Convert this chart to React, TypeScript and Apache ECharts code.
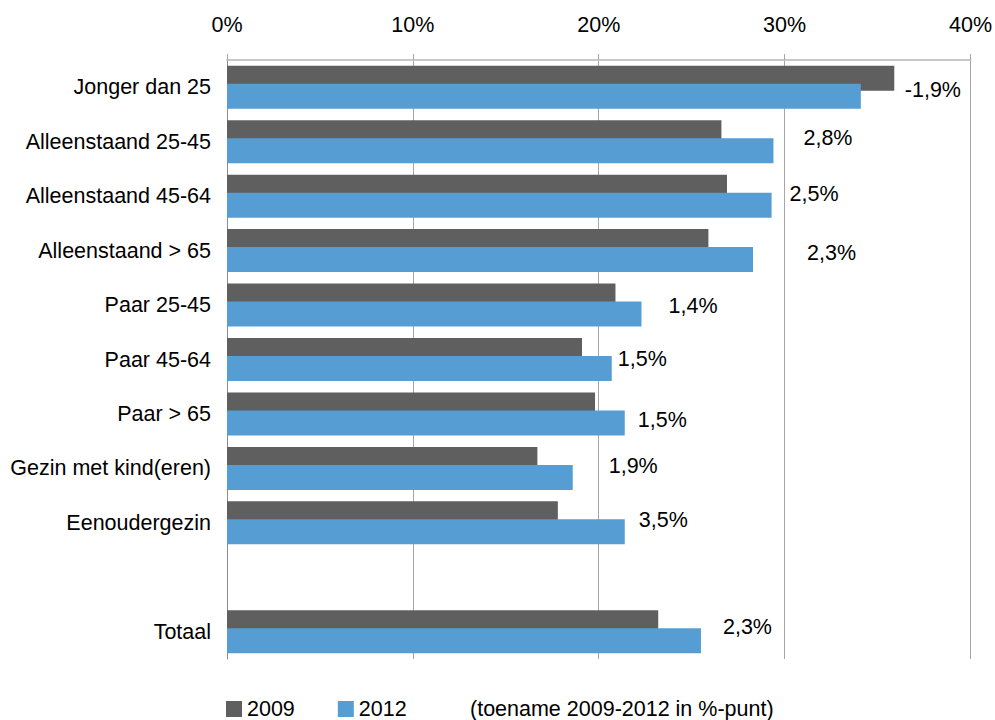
import React, { useEffect, useRef } from 'react';
import * as echarts from 'echarts';

const categories = [
  'Jonger dan 25',
  'Alleenstaand 25-45',
  'Alleenstaand 45-64',
  'Alleenstaand > 65',
  'Paar 25-45',
  'Paar 45-64',
  'Paar > 65',
  'Gezin met kind(eren)',
  'Eenoudergezin',
  '',
  'Totaal',
];

const values2009 = [35.9, 26.6, 26.9, 25.9, 20.9, 19.1, 19.8, 16.7, 17.8, null, 23.2];
const values2012 = [34.1, 29.4, 29.3, 28.3, 22.3, 20.7, 21.4, 18.6, 21.4, null, 25.5];
const changeLabels = ['-1,9%', '2,8%', '2,5%', '2,3%', '1,4%', '1,5%', '1,5%', '1,9%', '3,5%', '', '2,3%'];

const seriesNames = ['2009', '2012'];
const valueTicks = [0, 10, 20, 30, 40];
const noteText = '(toename 2009-2012 in %-punt)';

// label nudges (layout only), matching the hand-placed labels of the original
const labelNudges: [number, number][] = [
  [39, -6], [25, -13], [13, -11], [49, -7], [22, -8], [1, -10],
  [8, -3], [31, -11], [9, -12], [0, 0], [17, -14],
];

const FONT = "'Liberation Sans', Arial, Helvetica, sans-serif";
const FS = 21.5;
const GRAY = '#5f5f5f';
const BLUE = '#569dd3';

export default function App() {
  const ref = useRef<HTMLDivElement>(null);

  useEffect(() => {
    const chart = echarts.init(ref.current!, null, { renderer: 'svg' });
    chart.setOption({
      animation: false,
      backgroundColor: '#ffffff',
      textStyle: { fontFamily: FONT },
      grid: { left: 227, right: 24, top: 60, bottom: 61, containLabel: false },
      xAxis: {
        type: 'value',
        position: 'top',
        min: valueTicks[0],
        max: valueTicks[valueTicks.length - 1],
        interval: valueTicks[1] - valueTicks[0],
        axisLine: { show: true, lineStyle: { color: '#c8c8c8', width: 2 } },
        axisTick: { show: true, length: 6, lineStyle: { color: '#a6a6a6' } },
        splitLine: { show: true, lineStyle: { color: '#a6a6a6', width: 1 } },
        axisLabel: {
          formatter: '{value}%',
          fontSize: FS,
          fontFamily: FONT,
          color: '#000',
          margin: 24,
        },
      },
      yAxis: {
        type: 'category',
        inverse: true,
        data: categories,
        axisLine: { show: true, lineStyle: { color: '#8c8c8c', width: 1 } },
        axisTick: { show: false },
        axisLabel: { fontSize: FS, fontFamily: FONT, color: '#000', margin: 16 },
      },
      legend: {
        left: 226,
        top: 698,
        padding: 0,
        itemWidth: 16,
        itemHeight: 16,
        itemGap: 43,
        icon: 'rect',
        data: seriesNames,
        textStyle: { fontSize: FS, fontFamily: FONT, color: '#000' },
      },
      graphic: [
        {
          type: 'text',
          x: 470,
          y: 709,
          style: {
            text: noteText,
            fontSize: FS,
            fontFamily: FONT,
            fill: '#000',
            verticalAlign: 'middle',
          },
        },
      ],
      series: [
        {
          name: seriesNames[0],
          type: 'bar',
          data: values2009,
          barWidth: 25,
          barGap: '-28%',
          itemStyle: { color: GRAY },
        },
        {
          name: seriesNames[1],
          type: 'bar',
          barWidth: 25,
          data: values2012.map((v, i) => ({
            value: v,
            label: { offset: labelNudges[i] },
          })),
          itemStyle: { color: BLUE },
          label: {
            show: true,
            position: 'right',
            distance: 5,
            fontSize: FS,
            fontFamily: FONT,
            color: '#000',
            formatter: (p: any) => changeLabels[p.dataIndex],
          },
        },
      ],
    });
    return () => chart.dispose();
  }, []);

  return (
    <div
      ref={ref}
      style={{ position: 'absolute', left: 0, top: 0, width: 995, height: 720, background: '#fff' }}
    />
  );
}
